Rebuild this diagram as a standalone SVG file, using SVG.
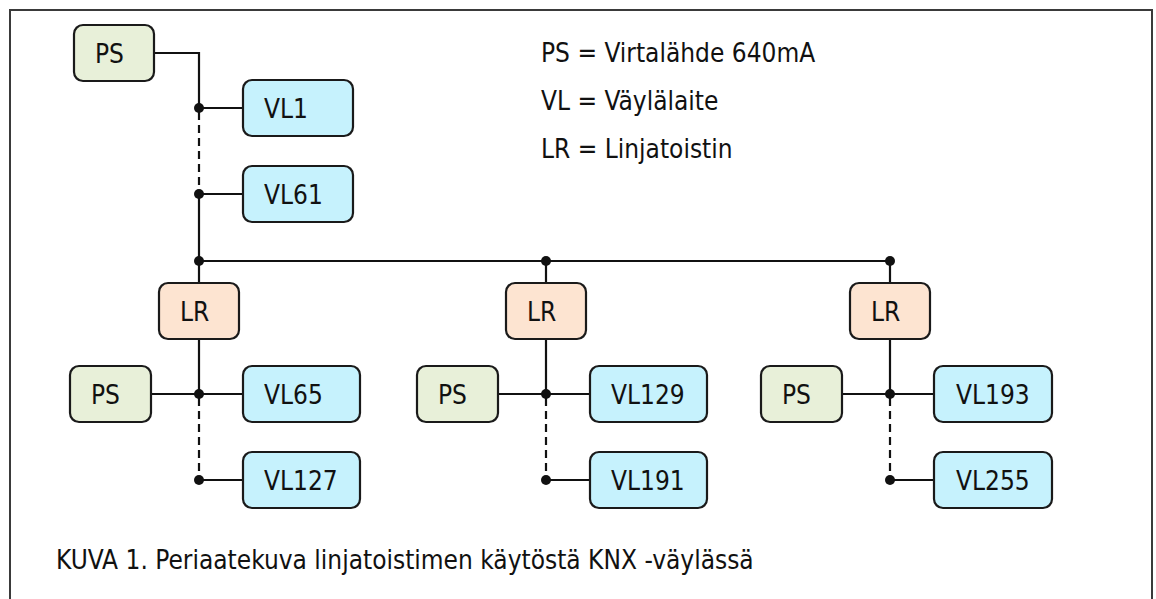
<svg xmlns="http://www.w3.org/2000/svg" width="1156" height="599" viewBox="0 0 1156 599">
<style>
text{font-family:"DejaVu Sans Condensed","DejaVu Sans",sans-serif;font-stretch:condensed;fill:#111;font-size:26px}
.box{stroke:#1a1a1a;stroke-width:2.2}
.ps{fill:#e8f0d9}
.vl{fill:#c6f2fd}
.lr{fill:#fde4d1}
.w{stroke:#111;stroke-width:2.2;fill:none}
.d{stroke:#111;stroke-width:2.2;fill:none;stroke-dasharray:8 5}
.dot{fill:#111}
</style>
<rect x="10" y="10" width="1142" height="600" fill="#fff" stroke="#3a3a3a" stroke-width="2"/>
<g id="connectors">
<path class="w" d="M154 53H199V108M199 194V283M199 261H890M199 108H243M199 194H243M546 261V283M890 261V283"/>
<path class="d" d="M199 112V194"/>
<path class="w" d="M199 339V394M151 394H243M199 480H243"/>
<path class="d" d="M199 398V480"/>
<path class="w" d="M546 339V394M498 394H590M546 480H590"/>
<path class="d" d="M546 398V480"/>
<path class="w" d="M890 339V394M842 394H934M890 480H934"/>
<path class="d" d="M890 398V480"/>
<circle class="dot" cx="199" cy="108" r="5"/>
<circle class="dot" cx="199" cy="194" r="5"/>
<circle class="dot" cx="199" cy="261" r="5"/>
<circle class="dot" cx="546" cy="261" r="5"/>
<circle class="dot" cx="890" cy="261" r="5"/>
<circle class="dot" cx="199" cy="394" r="5"/>
<circle class="dot" cx="199" cy="480" r="5"/>
<circle class="dot" cx="546" cy="394" r="5"/>
<circle class="dot" cx="546" cy="480" r="5"/>
<circle class="dot" cx="890" cy="394" r="5"/>
<circle class="dot" cx="890" cy="480" r="5"/>
</g>
<g id="ps-top"><rect class="box ps" x="74" y="25" width="80" height="56" rx="9"/><text x="95" y="63">PS</text></g>
<g id="vl1"><rect class="box vl" x="243" y="80" width="110" height="56" rx="9"/><text x="264" y="118">VL1</text></g>
<g id="vl61"><rect class="box vl" x="243" y="166" width="110" height="56" rx="9"/><text x="264" y="204">VL61</text></g>
<g id="lr1"><rect class="box lr" x="159" y="283" width="80" height="56" rx="9"/><text x="180" y="321">LR</text></g>
<g id="lr2"><rect class="box lr" x="506" y="283" width="80" height="56" rx="9"/><text x="527" y="321">LR</text></g>
<g id="lr3"><rect class="box lr" x="850" y="283" width="80" height="56" rx="9"/><text x="871" y="321">LR</text></g>
<g id="ps1"><rect class="box ps" x="70" y="366" width="81" height="56" rx="9"/><text x="91" y="404">PS</text></g>
<g id="ps2"><rect class="box ps" x="417" y="366" width="81" height="56" rx="9"/><text x="438" y="404">PS</text></g>
<g id="ps3"><rect class="box ps" x="761" y="366" width="81" height="56" rx="9"/><text x="782" y="404">PS</text></g>
<g id="vl65"><rect class="box vl" x="243" y="366" width="117" height="56" rx="9"/><text x="264" y="404">VL65</text></g>
<g id="vl127"><rect class="box vl" x="243" y="452" width="117" height="56" rx="9"/><text x="264" y="490">VL127</text></g>
<g id="vl129"><rect class="box vl" x="590" y="366" width="117" height="56" rx="9"/><text x="611" y="404">VL129</text></g>
<g id="vl191"><rect class="box vl" x="590" y="452" width="117" height="56" rx="9"/><text x="611" y="490">VL191</text></g>
<g id="vl193"><rect class="box vl" x="934" y="366" width="118" height="56" rx="9"/><text x="956" y="404">VL193</text></g>
<g id="vl255"><rect class="box vl" x="934" y="452" width="118" height="56" rx="9"/><text x="956" y="490">VL255</text></g>
<g id="legend">
<text x="541" y="62">PS = Virtalähde 640mA</text>
<text x="541" y="110">VL = Väylälaite</text>
<text x="541" y="158">LR = Linjatoistin</text>
</g>
<text x="56" y="569">KUVA 1. Periaatekuva linjatoistimen käytöstä KNX -väylässä</text>
</svg>
